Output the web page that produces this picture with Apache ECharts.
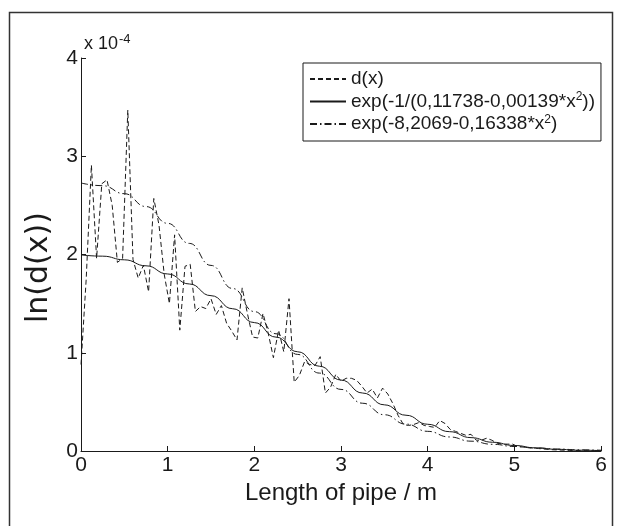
<!DOCTYPE html>
<html><head><meta charset="utf-8">
<script src="https://cdn.jsdelivr.net/npm/echarts@6/dist/echarts.min.js"></script>
<style>html,body{margin:0;padding:0;background:#fff}#c{width:620px;height:526px}</style>
</head><body><div id="c"></div>
<script>
// ---- data (values in units of 1e-4) ----
const D_STEP = 0.06;
const dY = [0.88,1.75,2.91,1.96,2.72,2.76,2.50,1.92,1.96,3.47,
            1.95,1.76,1.89,1.62,2.57,2.30,1.80,1.50,2.20,1.23,
            1.88,1.90,1.42,1.47,1.45,1.55,1.39,1.48,1.30,1.22,
            1.13,1.66,1.40,1.16,1.15,1.40,1.20,0.95,1.23,1.01,
            1.55,0.70,0.77,0.91,0.88,0.87,0.96,0.59,0.65,0.78,
            0.71,0.74,0.74,0.72,0.66,0.59,0.63,0.54,0.64,0.58,
            0.48,0.36,0.27,0.26,0.27,0.29,0.26,0.25,0.24,0.31,
            0.28,0.22,0.20,0.18,0.16,0.17,0.11,0.11,0.13,0.11,
            0.08,0.07,0.07,0.07,0.045,0.04,0.035,0.03,0.025,0.02,
            0.015,0.012,0.01,0.008,0.006,0.005,0.004,0.003,0.002,0.002,
            0.001];
const FIT_STEP = 0.25;
const fit1Y = [1.996,1.983,1.946,1.885,1.802,1.700,1.581,1.448,1.307,1.159,
               1.010,0.863,0.722,0.590,0.470,0.364,0.272,0.197,0.136,0.089,
               0.056,0.032,0.017,0.008,0.004];
const fit2Y = [2.728,2.700,2.619,2.488,2.317,2.113,1.889,1.654,1.419,1.193,
               0.983,0.793,0.627,0.486,0.369,0.274,0.200,0.143,0.100,0.068,
               0.046,0.030,0.020,0.012,0.008];
const seriesNames = ['d(x)', 'exp(-1/(0,11738-0,00139*x^2))', 'exp(-8,2069-0,16338*x^2)'];
const xAxisTitle = 'Length of pipe / m';
const yAxisTitle = 'ln(d(x))';
const X_MIN = 0, X_MAX = 6, Y_MIN = 0, Y_MAX = 4;

const FF = 'Liberation Sans, Arial, sans-serif';
const FW = 'DejaVu Sans, Liberation Sans, sans-serif';
const INK = '#1a1a1a';
const toPairs = (arr, step) => arr.map((v, i) => [+(i * step).toFixed(4), v]);

const chart = echarts.init(document.getElementById('c'), null, {renderer: 'canvas'});
chart.setOption({
  animation: false,
  backgroundColor: '#fff',
  grid: {left: 81, right: 19, top: 58, bottom: 75, containLabel: false},
  xAxis: {
    type: 'value', min: X_MIN, max: X_MAX, interval: 1,
    name: xAxisTitle, nameLocation: 'middle', nameGap: 27,
    nameTextStyle: {fontFamily: FF, fontSize: 24, color: INK},
    axisLine: {lineStyle: {color: INK, width: 1}},
    axisTick: {inside: true, length: 5, lineStyle: {color: INK}},
    axisLabel: {fontFamily: FF, fontSize: 21, color: INK, margin: 4},
    splitLine: {show: false}
  },
  yAxis: {
    type: 'value', min: Y_MIN, max: Y_MAX, interval: 1,
    name: yAxisTitle, nameLocation: 'middle', nameGap: 27, nameRotate: 90,
    nameTextStyle: {fontFamily: FW, fontSize: 30, color: INK, padding: [0, 26, 0, 0]},
    axisLine: {show: true, lineStyle: {color: INK, width: 1}},
    axisTick: {show: true, inside: true, length: 5, lineStyle: {color: INK}},
    axisLabel: {fontFamily: FF, fontSize: 21, color: INK, margin: 3},
    splitLine: {show: false}
  },
  legend: {
    orient: 'vertical', left: 303, top: 63,
    backgroundColor: '#fff', borderColor: INK, borderWidth: 1,
    padding: [6, 6, 7, 6], itemGap: 2, itemWidth: 36, itemHeight: 14,
    itemStyle: {opacity: 0},
    textStyle: {fontFamily: FF, fontSize: 19, color: INK, lineHeight: 20,
      rich: {s: {fontFamily: FF, fontSize: 12, color: INK, padding: [0, 0, 9, 0]}}},
    formatter: n => n.replace('^2', '{s|2}'),
    data: seriesNames
  },
  graphic: [
    {type: 'rect', silent: true, z: -10,
     shape: {x: 9.5, y: 12.5, width: 603, height: 530},
     style: {fill: 'none', stroke: '#333', lineWidth: 1.5}},
    {type: 'text', left: 84, top: 33, silent: true,
     style: {text: '{a|x 10}{b|-4}', fill: INK,
       rich: {a: {fontFamily: FF, fontSize: 18, fill: INK},
              b: {fontFamily: FF, fontSize: 13, fill: INK, padding: [0, 0, 10, 1]}}}}
  ],
  series: [
    {name: seriesNames[0], type: 'line', data: toPairs(dY, D_STEP), symbol: 'none',
     lineStyle: {color: INK, width: 1, type: [5, 3]}, itemStyle: {color: INK}, z: 3},
    {name: seriesNames[1], type: 'line', data: toPairs(fit1Y, FIT_STEP), symbol: 'none',
     smooth: true, smoothMonotone: 'x',
     lineStyle: {color: INK, width: 1, type: 'solid'}, itemStyle: {color: INK}, z: 2},
    {name: seriesNames[2], type: 'line', data: toPairs(fit2Y, FIT_STEP), symbol: 'none',
     smooth: true, smoothMonotone: 'x',
     lineStyle: {color: INK, width: 1, type: [7, 3, 1.5, 3]}, itemStyle: {color: INK}, z: 2}
  ]
});
</script></body></html>
